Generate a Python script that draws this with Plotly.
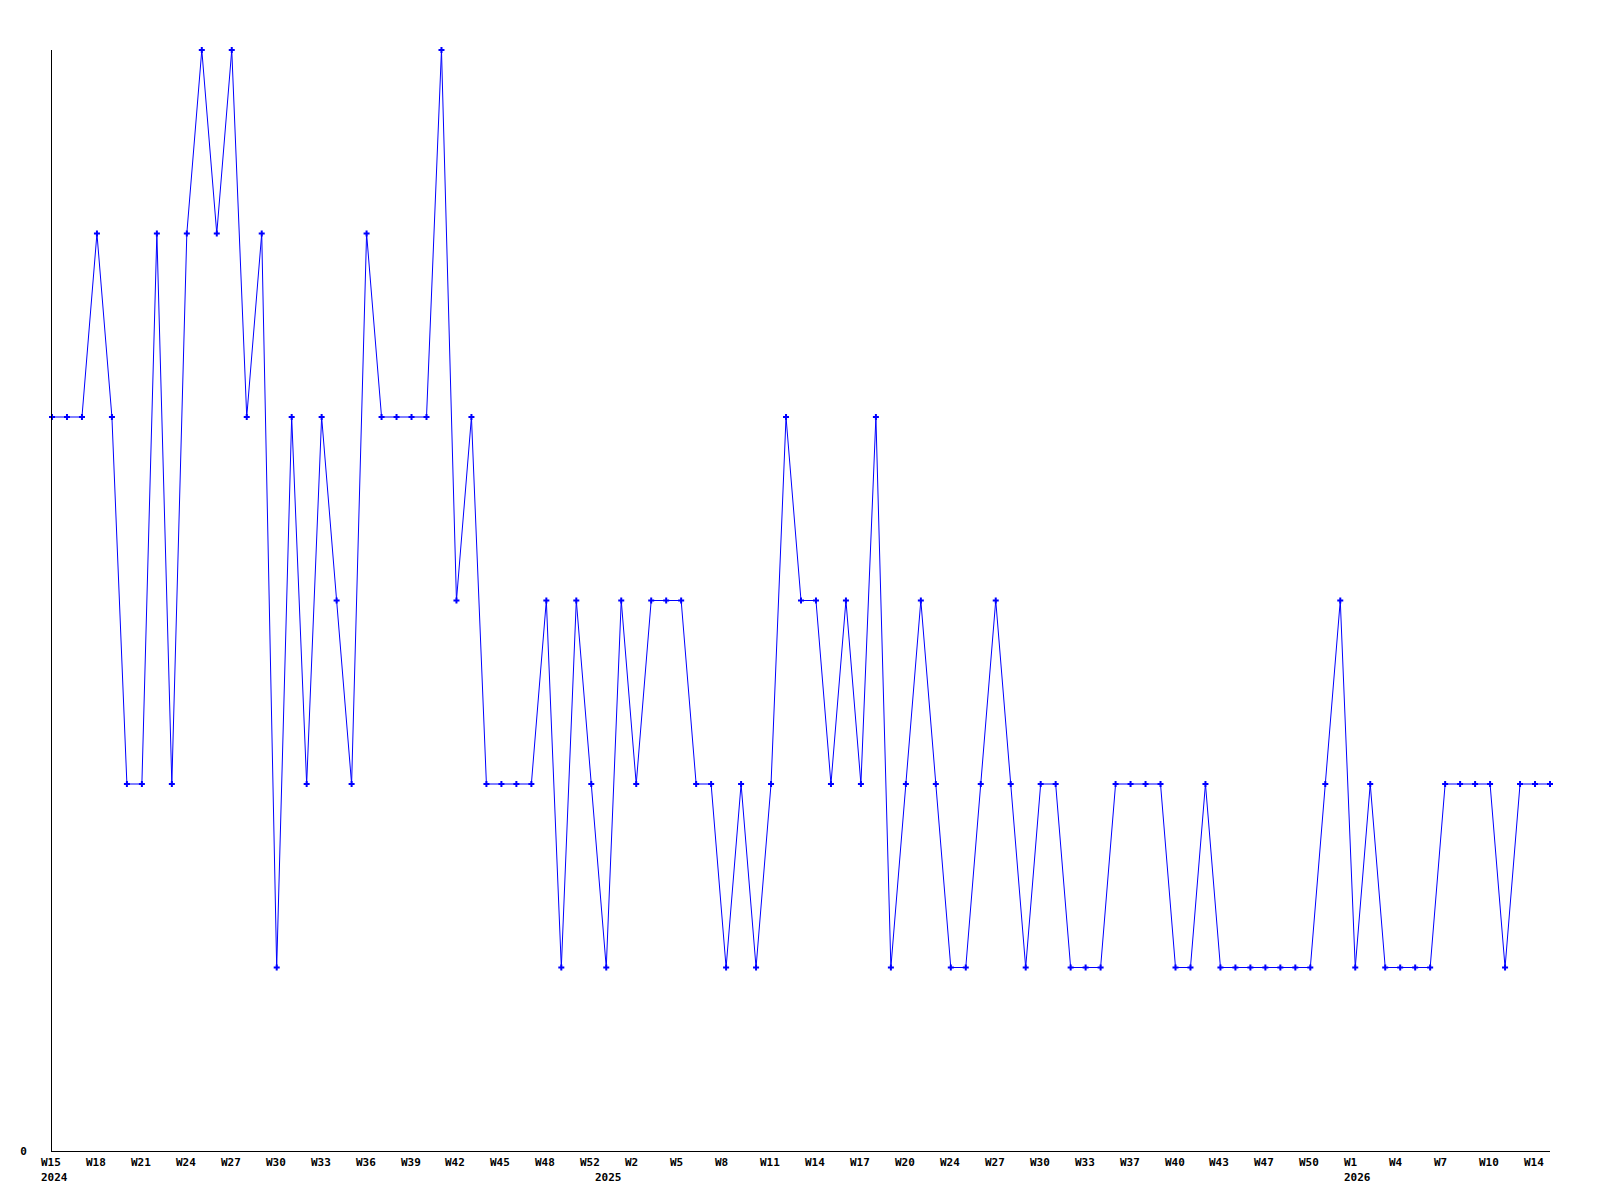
import plotly.graph_objects as go

# one sample per ~week, 2024 W15 .. 2026 W15
counts = [
    4, 4, 4, 5, 4, 2, 2, 5, 2, 5, 6, 5, 6, 4, 5, 1, 4, 2, 4, 3,
    2, 5, 4, 4, 4, 4, 6, 3, 4, 2, 2, 2, 2, 3, 1, 3, 2, 1, 3, 2,
    3, 3, 3, 2, 2, 1, 2, 1, 2, 4, 3, 3, 2, 3, 2, 4, 1, 2, 3, 2,
    1, 1, 2, 3, 2, 1, 2, 2, 1, 1, 1, 2, 2, 2, 2, 1, 1, 2, 1, 1,
    1, 1, 1, 1, 1, 2, 3, 1, 2, 1, 1, 1, 1, 2, 2, 2, 2, 1, 2, 2,
    2,
]
samples = list(range(len(counts)))

week_labels = [
    "W15", "W18", "W21", "W24", "W27", "W30", "W33", "W36", "W39", "W42",
    "W45", "W48", "W52", "W2", "W5", "W8", "W11", "W14", "W17", "W20",
    "W24", "W27", "W30", "W33", "W37", "W40", "W43", "W47", "W50", "W1",
    "W4", "W7", "W10", "W14",
]
week_ticks = samples[::3][: len(week_labels)]

years = ["2024", "2025", "2026"]
year_samples = [0, 37, 87]

FONT = dict(family="DejaVu Sans Mono", size=11, color="black", weight="bold")

fig = go.Figure()
fig.add_trace(
    go.Scatter(
        x=samples,
        y=counts,
        mode="lines+markers",
        line=dict(color="#0000ff", width=1),
        marker=dict(symbol="cross", size=5, color="#0000ff"),
        cliponaxis=False,
        showlegend=False,
    )
)

# week labels, left-aligned just before each tick
for s, lab in zip(week_ticks, week_labels):
    fig.add_annotation(
        x=s, y=0, yref="paper", text=lab, showarrow=False,
        xanchor="left", yanchor="middle", xshift=-13, yshift=-11, font=FONT,
    )
for s, lab in zip(year_samples, years):
    fig.add_annotation(
        x=s, y=0, yref="paper", text=lab, showarrow=False,
        xanchor="left", yanchor="middle", xshift=-13, yshift=-26, font=FONT,
    )

fig.update_xaxes(
    range=[0, len(counts) - 1],
    showline=True, linecolor="black", linewidth=1,
    showgrid=False, zeroline=False, ticks="", showticklabels=False,
)
fig.update_yaxes(
    range=[0, 6],
    tickvals=[0], ticktext=["0"], tickfont=FONT, ticklabelstandoff=22,
    showline=True, linecolor="black", linewidth=1,
    showgrid=False, zeroline=False, ticks="",
)
# page body adds an 8px margin, so shrink the figure to keep the plot in place
fig.update_layout(
    width=1584,
    height=1184,
    margin=dict(l=42, r=42, t=42, b=41),
    plot_bgcolor="white",
    paper_bgcolor="white",
)

fig.write_html("out.html")
